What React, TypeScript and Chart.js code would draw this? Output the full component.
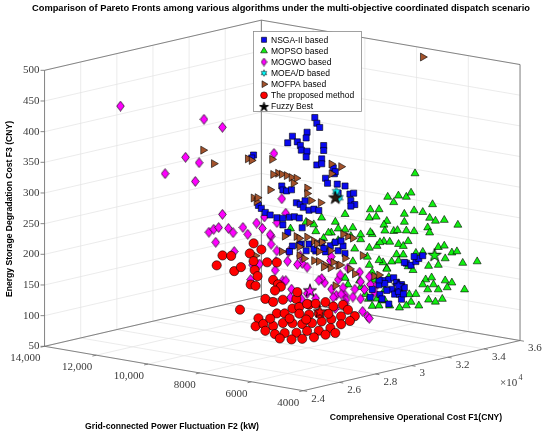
import React, { useEffect, useRef } from "react";
import { Chart, registerables } from "chart.js";
import { drawPoint } from "chart.js/helpers";

Chart.register(...registerables);

const title =
  "Comparison of Pareto Fronts among various algorithms under the multi-objective coordinated dispatch scenario";
const seriesNames = [
  "NSGA-II based",
  "MOPSO based",
  "MOGWO based",
  "MOEA/D based",
  "MOFPA based",
  "The proposed method",
  "Fuzzy Best",
];
const f1Title = "Comprehensive Operational Cost F1(CNY)";
const f2Title = "Grid-connected Power Fluctuation F2 (kW)";
const f3Title = "Energy Storage Degradation Cost F3 (CNY)";

const f1Ticks = [24000, 26000, 28000, 30000, 32000, 34000, 36000];
const f1TickLabels = ["2.4", "2.6", "2.8", "3", "3.2", "3.4", "3.6"];
const f2Ticks = [4000, 6000, 8000, 10000, 12000, 14000];
const f2TickLabels = ["4000", "6000", "8000", "10,000", "12,000", "14,000"];
const f3Ticks = [50, 100, 150, 200, 250, 300, 350, 400, 450, 500];

// every point: [F1 (CNY), F2 (kW), F3 (CNY)]
const nsga2Points = [
  [31800, 9000, 406], [30480, 8000, 413], [32070, 9000, 388], [29940, 8000, 402],
  [31320, 9000, 376], [29130, 8000, 401], [30300, 9000, 375], [29400, 8000, 390],
  [31000, 9000, 366], [29620, 8000, 375], [31370, 9000, 354], [29890, 8000, 362],
  [32290, 9000, 357], [30860, 8000, 366], [32180, 9000, 336], [30480, 8000, 345],
  [29320, 7000, 362], [31390, 8000, 334], [30020, 7000, 341], [30960, 8000, 320],
  [29640, 7000, 328], [31610, 8000, 306], [30610, 7000, 317], [31660, 8000, 291],
  [30880, 7000, 302], [32520, 8000, 285], [30930, 7000, 291], [32580, 8000, 266],
  [30930, 7000, 282], [29840, 10000, 351], [31170, 11000, 330], [29970, 9000, 307],
  [28600, 8000, 317], [30240, 9000, 297], [29080, 8000, 314], [30780, 9000, 274],
  [29560, 8000, 287], [31260, 9000, 274], [29730, 8000, 281], [31480, 9000, 257],
  [30320, 8000, 274], [32020, 9000, 253], [30110, 10000, 267], [28840, 9000, 278],
  [30490, 10000, 253], [29330, 9000, 264], [28270, 8000, 274], [30030, 9000, 254],
  [28970, 8000, 270], [30670, 9000, 252], [29510, 8000, 265], [31100, 9000, 231],
  [29620, 8000, 222], [31480, 9000, 202], [30750, 8000, 216], [32660, 9000, 191],
  [31500, 8000, 212], [31660, 8000, 197], [30500, 7000, 220], [32040, 8000, 190],
  [29530, 7000, 217], [30420, 8000, 205], [28460, 7000, 226], [28600, 8000, 260],
  [30300, 9000, 229], [29130, 8000, 222], [30940, 9000, 204], [31750, 9000, 192],
  [30860, 8000, 206], [30390, 7000, 229], [30400, 9000, 197], [30070, 7000, 344],
  [32570, 6000, 185], [31400, 5000, 197], [33100, 6000, 184], [31830, 5000, 205],
  [33480, 6000, 191], [31570, 5000, 210], [31030, 5000, 204], [31330, 6000, 165],
  [30170, 5000, 182], [31870, 6000, 166], [30600, 5000, 174], [32300, 6000, 152],
  [31030, 5000, 163], [31760, 6000, 148], [30490, 5000, 156], [32190, 6000, 137],
  [30060, 5000, 165], [31110, 6000, 144], [29140, 5000, 160], [31220, 6000, 136],
  [30870, 5000, 145], [31600, 6000, 125], [29630, 5000, 177], [30680, 6000, 155],
  [31380, 6000, 160], [30700, 5000, 159], [32410, 6000, 136], [29630, 5000, 185],
];

const mopsoPoints = [
  [31620, 5000, 345], [31540, 6000, 300], [30700, 5000, 315], [32570, 6000, 293],
  [31400, 5000, 315], [30440, 5000, 306], [32590, 5000, 288], [30580, 6000, 286],
  [29630, 5000, 300], [32460, 6000, 266], [31570, 5000, 285], [33480, 6000, 262],
  [29090, 5000, 290], [30900, 6000, 272], [30060, 5000, 278], [31030, 5000, 270],
  [33860, 6000, 250], [32750, 5000, 260], [34670, 6000, 241], [33990, 5000, 245],
  [29180, 6000, 288], [27210, 5000, 296], [31330, 6000, 256], [29950, 5000, 263],
  [31870, 6000, 242], [30650, 5000, 259], [32570, 6000, 238], [31570, 5000, 251],
  [32320, 5000, 252], [33860, 6000, 226], [29250, 5000, 262], [31330, 6000, 229],
  [30220, 5000, 243], [32140, 6000, 219], [30970, 5000, 231], [32670, 6000, 220],
  [27750, 5000, 280], [29500, 6000, 250], [28610, 5000, 258], [30520, 6000, 224],
  [29520, 5000, 241], [32030, 6000, 203], [30970, 5000, 217], [33100, 6000, 198],
  [32050, 5000, 214], [32910, 5000, 216], [34670, 6000, 199], [33660, 5000, 202],
  [35370, 6000, 185], [33290, 5000, 195], [34260, 5000, 181], [35060, 5000, 178],
  [28980, 5000, 227], [31280, 6000, 195], [30330, 5000, 210], [32140, 6000, 192],
  [31240, 5000, 196], [32940, 6000, 171], [32370, 5000, 189], [34340, 6000, 170],
  [30060, 5000, 201], [32210, 5000, 168], [33970, 6000, 152], [32640, 5000, 157],
  [34720, 6000, 142], [33660, 5000, 153], [33480, 6000, 144], [32320, 5000, 151],
  [34340, 6000, 130], [33400, 5000, 147], [34360, 5000, 137], [31300, 5000, 150],
  [33100, 6000, 131], [32370, 5000, 134], [34180, 6000, 111], [33130, 5000, 130],
  [31400, 5000, 137], [27750, 5000, 201], [29340, 6000, 172], [28610, 5000, 180],
  [30790, 6000, 170], [26990, 5000, 280], [28800, 6000, 248], [31830, 5000, 128],
  [32570, 6000, 116], [30760, 5000, 132], [31650, 6000, 122], [29950, 5000, 149],
  [30950, 6000, 138], [29040, 5000, 158], [29250, 5000, 145], [31060, 6000, 126],
  [24730, 5000, 302], [25590, 5000, 307], [26130, 5000, 288], [27990, 6000, 257],
  [27100, 5000, 262], [27370, 5000, 284], [29610, 6000, 263], [28610, 5000, 266],
  [30580, 6000, 249], [29680, 5000, 246], [28280, 5000, 245], [29630, 5000, 217],
  [30520, 6000, 196], [29250, 5000, 200], [31490, 6000, 183], [30170, 5000, 186],
  [29610, 6000, 208], [28550, 5000, 191], [26450, 5000, 308], [27450, 6000, 283],
  [28260, 6000, 264], [29950, 5000, 167], [31220, 6000, 134], [28880, 5000, 167],
];

const mogwoPoints = [
  [26770, 13000, 430], [29960, 12000, 394], [29550, 11000, 391], [28940, 12000, 339],
  [28260, 11000, 342], [29240, 13000, 303], [29480, 12000, 296], [29550, 11000, 249],
  [30970, 10000, 346], [29970, 9000, 286], [28800, 11000, 225], [30500, 12000, 211],
  [27910, 10000, 246], [29880, 11000, 224], [28710, 10000, 232], [30610, 12000, 189],
  [29250, 10000, 237], [30950, 11000, 207], [30010, 10000, 239], [28900, 9000, 245],
  [30440, 10000, 246], [28770, 10000, 201], [28250, 9000, 166], [29380, 9000, 229],
  [28270, 8000, 266], [30190, 9000, 261], [27950, 8000, 233], [29700, 9000, 203],
  [28920, 8000, 214], [29650, 9000, 186], [28860, 8000, 199], [28170, 8000, 189],
  [28130, 7000, 220], [29670, 8000, 190], [27160, 7000, 186], [29080, 8000, 152],
  [27590, 7000, 156], [29460, 8000, 143], [28510, 7000, 156], [30420, 8000, 128],
  [29480, 7000, 167], [31290, 8000, 137], [30120, 7000, 142], [31930, 8000, 135],
  [30770, 7000, 182], [32040, 8000, 122], [31040, 7000, 133], [31470, 7000, 127],
  [30150, 6000, 123], [31850, 7000, 96], [29720, 6000, 162], [31680, 7000, 141],
  [30580, 6000, 164], [32220, 7000, 133], [28800, 6000, 184], [29800, 7000, 201],
  [31420, 7000, 171], [30040, 6000, 172], [31950, 7000, 160], [30750, 8000, 158],
  [29940, 8000, 182], [27970, 7000, 207], [29850, 7000, 207], [30340, 7000, 174],
  [30950, 6000, 161], [28960, 6000, 159], [30660, 7000, 131], [30520, 6000, 109],
  [28740, 9000, 188], [29790, 10000, 172], [29330, 9000, 232], [28760, 8000, 168],
  [28190, 7000, 149], [29160, 7000, 173], [30070, 7000, 121], [30610, 7000, 125],
  [31390, 8000, 123],
];

const moeadPoints = [
  [30120, 7000, 311], [31720, 8000, 283],
];

const mofpaPoints = [
  [36000, 7760, 485], [29910, 12000, 344], [29070, 11000, 335], [29520, 10000, 347],
  [28300, 9000, 360], [29430, 9000, 354], [28330, 8000, 346], [29970, 9000, 326],
  [28810, 8000, 339], [30510, 9000, 317], [29350, 8000, 331], [30620, 9000, 307],
  [29330, 9000, 305], [29840, 10000, 281], [28570, 9000, 291], [31490, 11000, 263],
  [29940, 8000, 311], [31370, 9000, 285], [30160, 8000, 289], [29850, 7000, 358],
  [30390, 7000, 350], [31290, 8000, 325], [29260, 7000, 299], [28700, 8000, 241],
  [27920, 7000, 253], [29510, 8000, 218], [28620, 7000, 271], [30320, 8000, 222],
  [29050, 7000, 233], [30590, 8000, 203], [29320, 7000, 234], [28080, 7000, 221],
  [29780, 8000, 197], [28890, 7000, 207], [30590, 8000, 187], [29530, 7000, 195],
  [31230, 8000, 172], [30230, 7000, 190], [32040, 8000, 182], [30770, 7000, 234],
  [32470, 8000, 212], [30500, 7000, 239], [30070, 7000, 158], [30790, 6000, 176],
  [29970, 9000, 200], [30940, 9000, 215], [29940, 8000, 231], [29800, 7000, 217],
  [31390, 8000, 180], [30860, 8000, 176], [31770, 8000, 173], [30880, 7000, 180],
  [31580, 7000, 197], [31060, 6000, 176], [31150, 7000, 170], [29950, 10000, 186],
  [29490, 9000, 329],
];

const proposedPoints = [
  [26690, 9000, 216], [27170, 9000, 212], [26370, 9000, 202], [27340, 9000, 186],
  [27710, 9000, 190], [28200, 9000, 209], [25550, 7000, 258], [27410, 8000, 228],
  [28410, 9000, 195], [26300, 7000, 222], [28270, 8000, 201], [28470, 9000, 180],
  [25770, 7000, 203], [28250, 9000, 158], [27090, 8000, 171], [26630, 7000, 191],
  [28330, 8000, 165], [29920, 9000, 143], [26730, 7000, 173], [27630, 8000, 146],
  [27660, 9000, 121], [26630, 7000, 155], [28600, 8000, 138], [30780, 9000, 117],
  [27970, 7000, 162], [30050, 8000, 120], [28680, 9000, 100], [25660, 7000, 122],
  [27520, 8000, 106], [29700, 9000, 101], [27270, 7000, 132], [29130, 8000, 120],
  [30940, 9000, 103], [28510, 7000, 139], [30420, 8000, 119], [32390, 9000, 101],
  [29960, 7000, 125], [31930, 8000, 107], [30770, 7000, 114], [31150, 7000, 101],
  [31820, 8000, 89], [29850, 7000, 105], [30750, 8000, 88], [28780, 7000, 106],
  [29670, 8000, 91], [27700, 7000, 113], [28600, 8000, 100], [26630, 7000, 116],
  [27630, 8000, 94], [26730, 7000, 102], [28700, 8000, 83], [27920, 7000, 96],
  [29940, 8000, 78], [29160, 7000, 91], [31230, 8000, 74], [30390, 7000, 93],
  [30880, 7000, 95], [29510, 8000, 109], [28620, 7000, 121], [30590, 8000, 102],
  [29690, 7000, 115], [29890, 8000, 97], [27540, 7000, 122], [27900, 8000, 112],
  [27000, 7000, 93], [27650, 7000, 87], [28240, 7000, 84], [28890, 7000, 82],
  [29530, 7000, 82], [30070, 7000, 81],
];

const fuzzyBestPoints = [
  [30700, 5000, 169], [32700, 5000, 205], [28670, 7000, 160], [30070, 7000, 302], [29210, 7000, 122],
];
const fuzzyBestOf = ["NSGA-II based", "MOPSO based", "MOGWO based", "MOFPA based", "The proposed method"];

const seriesColor: Record<string, string> = {
  "NSGA-II based": "#0a0af0",
  "MOPSO based": "#10f010",
  "MOGWO based": "#ff00ff",
  "MOEA/D based": "#00ffff",
  "MOFPA based": "#a3522b",
  "The proposed method": "#ff0000",
  "Fuzzy Best": "#000000",
};

// fixed 3-D view of the axes box, in page pixels
const VIEW_W = 550;
const VIEW_H = 434;
const ORIGIN = { x: 304, y: 397 }; // F1 = 2.4e4, F2 = 4000, F3 = 50
const DIR_F1 = { x: 223, y: -52 };
const DIR_F2 = { x: -266, y: -46 };
const DIR_F3 = { x: 0, y: -286 };

function project(f1: number, f2: number, f3: number) {
  const u = (f1 - 24000) / 12000;
  const v = (f2 - 4000) / 10000;
  const w = (f3 - 50) / 450;
  return {
    x: ORIGIN.x + u * DIR_F1.x + v * DIR_F2.x + w * DIR_F3.x,
    y: ORIGIN.y + u * DIR_F1.y + v * DIR_F2.y + w * DIR_F3.y,
  };
}

const toXY = (pts: number[][]) => pts.map((p) => project(p[0], p[1], p[2]));

function makeCanvas(w: number, h: number, draw: (ctx: CanvasRenderingContext2D) => void) {
  const c = document.createElement("canvas");
  c.width = w;
  c.height = h;
  const ctx = c.getContext("2d");
  if (ctx) draw(ctx);
  return c;
}

function diamondMarker(fill: string, w: number, h: number) {
  return makeCanvas(w, h, (ctx) => {
    ctx.beginPath();
    ctx.moveTo(w / 2, 0.6);
    ctx.lineTo(w - 0.7, h / 2);
    ctx.lineTo(w / 2, h - 0.6);
    ctx.lineTo(0.7, h / 2);
    ctx.closePath();
    ctx.fillStyle = fill;
    ctx.fill();
    ctx.lineWidth = 0.7;
    ctx.strokeStyle = "#000";
    ctx.stroke();
  });
}

function starMarker(fill: string, size: number, R: number) {
  return makeCanvas(size, size, (ctx) => {
    const r = R * 0.382;
    const c = size / 2;
    ctx.beginPath();
    for (let i = 0; i < 10; i++) {
      const a = -Math.PI / 2 + (i * Math.PI) / 5;
      const rad = i % 2 === 0 ? R : r;
      const px = c + rad * Math.cos(a);
      const py = c + 0.5 + rad * Math.sin(a);
      if (i === 0) ctx.moveTo(px, py);
      else ctx.lineTo(px, py);
    }
    ctx.closePath();
    ctx.fillStyle = fill;
    ctx.fill();
    ctx.lineWidth = 0.9;
    ctx.strokeStyle = "#000";
    ctx.stroke();
  });
}

function hexagramMarker(fill: string, size: number, R: number) {
  return makeCanvas(size, size, (ctx) => {
    const c = size / 2;
    ctx.fillStyle = fill;
    ctx.strokeStyle = "#333";
    ctx.lineWidth = 0.6;
    for (const off of [-Math.PI / 2, Math.PI / 2]) {
      ctx.beginPath();
      for (let i = 0; i < 3; i++) {
        const a = off + (i * 2 * Math.PI) / 3;
        const px = c + R * Math.cos(a);
        const py = c + R * Math.sin(a);
        if (i === 0) ctx.moveTo(px, py);
        else ctx.lineTo(px, py);
      }
      ctx.closePath();
      ctx.fill();
      ctx.stroke();
    }
  });
}

const App: React.FC = () => {
  const canvasRef = useRef<HTMLCanvasElement | null>(null);
  const chartInstance = useRef<Chart | null>(null);

  useEffect(() => {
    document.body.style.margin = "0";
    if (!canvasRef.current) return;

    const diamond = diamondMarker(seriesColor["MOGWO based"], 9, 11);
    const hexagram = hexagramMarker(seriesColor["MOEA/D based"], 11, 4.6);
    const fuzzyStars = fuzzyBestOf.map((s) =>
      starMarker(s === "MOFPA based" ? "#2a1c12" : seriesColor[s], 16, 6.9)
    );
    const legendDiamond = diamondMarker(seriesColor["MOGWO based"], 7, 9);
    const legendHexagram = hexagramMarker(seriesColor["MOEA/D based"], 8, 3.3);
    const legendStar = starMarker("#000000", 11, 4.8);

    const edgeStyle = { borderColor: "#000", borderWidth: 0.6 };

    const legendMarks = [
      { pointStyle: "rect", radius: 3.6, rotation: 0, color: seriesColor["NSGA-II based"] },
      { pointStyle: "triangle", radius: 3.9, rotation: 0, color: seriesColor["MOPSO based"] },
      { pointStyle: legendDiamond, radius: 3, rotation: 0, color: seriesColor["MOGWO based"] },
      { pointStyle: legendHexagram, radius: 3, rotation: 0, color: seriesColor["MOEA/D based"] },
      { pointStyle: "triangle", radius: 3.9, rotation: 90, color: seriesColor["MOFPA based"] },
      { pointStyle: "circle", radius: 3.4, rotation: 0, color: seriesColor["The proposed method"] },
      { pointStyle: legendStar, radius: 4, rotation: 0, color: "#000" },
    ];

    const axesBox = {
      id: "axesBox",
      beforeDatasetsDraw(chart: Chart) {
        const { ctx } = chart;
        const sx = chart.scales.x;
        const sy = chart.scales.y;
        const P = (f1: number, f2: number, f3: number): [number, number] => {
          const p = project(f1, f2, f3);
          return [sx.getPixelForValue(p.x), sy.getPixelForValue(p.y)];
        };
        const line = (a: [number, number], b: [number, number]) => {
          ctx.beginPath();
          ctx.moveTo(a[0], a[1]);
          ctx.lineTo(b[0], b[1]);
          ctx.stroke();
        };
        ctx.save();

        // grid on the floor and the two back walls
        ctx.strokeStyle = "#e2e2e2";
        ctx.lineWidth = 0.7;
        f1Ticks.forEach((t) => {
          line(P(t, 4000, 50), P(t, 14000, 50));
          line(P(t, 14000, 50), P(t, 14000, 500));
        });
        f2Ticks.forEach((t) => {
          line(P(24000, t, 50), P(36000, t, 50));
          line(P(36000, t, 50), P(36000, t, 500));
        });
        f3Ticks.forEach((t) => {
          line(P(24000, 14000, t), P(36000, 14000, t));
          line(P(36000, 14000, t), P(36000, 4000, t));
        });

        // box edges and axes
        ctx.strokeStyle = "#6a6a6a";
        ctx.lineWidth = 0.8;
        line(P(24000, 14000, 50), P(24000, 14000, 500));
        line(P(36000, 14000, 50), P(36000, 14000, 500));
        line(P(36000, 4000, 50), P(36000, 4000, 500));
        line(P(24000, 14000, 500), P(36000, 14000, 500));
        line(P(36000, 14000, 500), P(36000, 4000, 500));
        line(P(24000, 14000, 50), P(36000, 14000, 50));
        line(P(36000, 14000, 50), P(36000, 4000, 50));
        line(P(24000, 14000, 50), P(24000, 4000, 50));
        line(P(24000, 4000, 50), P(36000, 4000, 50));

        // ticks and tick labels
        ctx.fillStyle = "#3a3a3a";
        ctx.font = "11px 'Liberation Serif', 'Times New Roman', serif";
        ctx.textBaseline = "middle";
        ctx.textAlign = "right";
        f3Ticks.forEach((t) => {
          const p = P(24000, 14000, t);
          line([p[0] - 4, p[1]], p);
          ctx.fillText(String(t), p[0] - 5, p[1]);
        });
        f2Ticks.forEach((t, i) => {
          const p = P(24000, t, 50);
          line(p, [p[0] - 3.9, p[1] + 0.9]);
          ctx.fillText(f2TickLabels[i], p[0] - 4, p[1] + 12);
        });
        ctx.textAlign = "left";
        f1Ticks.forEach((t, i) => {
          const p = P(t, 4000, 50);
          line(p, [p[0] + 3.9, p[1] + 0.7]);
          ctx.fillText(f1TickLabels[i], p[0] + 8, p[1] + 8);
        });
        ctx.fillText("\u00d710", 500, 383);
        ctx.font = "8px 'Liberation Serif', 'Times New Roman', serif";
        ctx.fillText("4", 518.5, 378);

        // titles
        ctx.fillStyle = "#000";
        ctx.textAlign = "center";
        ctx.font = "bold 9.3px 'Liberation Sans', Arial, sans-serif";
        ctx.fillText(title, 281, 8.5);
        ctx.font = "bold 8.6px 'Liberation Sans', Arial, sans-serif";
        ctx.fillText(f2Title, 172, 427);
        ctx.fillText(f1Title, 416, 418);
        ctx.save();
        ctx.translate(10, 209);
        ctx.rotate(-Math.PI / 2);
        ctx.fillText(f3Title, 0, 0);
        ctx.restore();

        ctx.restore();
      },
      afterDatasetsDraw(chart: Chart) {
        const { ctx } = chart;
        ctx.save();
        ctx.fillStyle = "#fff";
        ctx.strokeStyle = "#8a8a8a";
        ctx.lineWidth = 0.8;
        ctx.fillRect(253.5, 31.5, 108, 80);
        ctx.strokeRect(253.5, 31.5, 108, 80);
        ctx.font = "8.5px 'Liberation Sans', Arial, sans-serif";
        ctx.textAlign = "left";
        ctx.textBaseline = "middle";
        seriesNames.forEach((name, i) => {
          const y = 39.8 + i * 11.1;
          const m = legendMarks[i];
          ctx.fillStyle = m.color;
          ctx.strokeStyle = "#000";
          ctx.lineWidth = 0.6;
          drawPoint(
            ctx,
            { pointStyle: m.pointStyle as any, radius: m.radius, rotation: m.rotation, borderWidth: 0.6 },
            264,
            y
          );
          ctx.fillStyle = "#000";
          ctx.fillText(name, 271, y + 0.5);
        });
        ctx.restore();
      },
    };

    chartInstance.current = new Chart(canvasRef.current, {
      type: "scatter",
      data: {
        datasets: [
          {
            label: seriesNames[0],
            data: toXY(nsga2Points),
            pointStyle: "rect",
            pointRadius: 4.3,
            backgroundColor: seriesColor["NSGA-II based"],
            ...edgeStyle,
            order: 4,
          },
          {
            label: seriesNames[1],
            data: toXY(mopsoPoints),
            pointStyle: "triangle",
            pointRadius: 4.6,
            backgroundColor: seriesColor["MOPSO based"],
            ...edgeStyle,
            order: 6,
          },
          {
            label: seriesNames[2],
            data: toXY(mogwoPoints),
            pointStyle: diamond,
            pointRadius: 4,
            backgroundColor: seriesColor["MOGWO based"],
            ...edgeStyle,
            order: 5,
          },
          {
            label: seriesNames[3],
            data: toXY(moeadPoints),
            pointStyle: hexagram,
            pointRadius: 4,
            backgroundColor: seriesColor["MOEA/D based"],
            ...edgeStyle,
            order: 1,
          },
          {
            label: seriesNames[4],
            data: toXY(mofpaPoints),
            pointStyle: "triangle",
            pointRotation: 90,
            pointRadius: 4.6,
            backgroundColor: seriesColor["MOFPA based"],
            ...edgeStyle,
            order: 3,
          },
          {
            label: seriesNames[5],
            data: toXY(proposedPoints),
            pointStyle: "circle",
            pointRadius: 4.6,
            backgroundColor: seriesColor["The proposed method"],
            ...edgeStyle,
            order: 2,
          },
          {
            label: seriesNames[6],
            data: toXY(fuzzyBestPoints),
            pointStyle: fuzzyStars,
            pointRadius: 7,
            backgroundColor: "#000",
            ...edgeStyle,
            order: 0,
          },
        ],
      },
      options: {
        animation: false,
        responsive: false,
        events: [],
        layout: { padding: 0 },
        plugins: {
          legend: { display: false },
          tooltip: { enabled: false },
          title: { display: false },
        },
        scales: {
          x: { type: "linear", min: 0, max: VIEW_W, display: false },
          y: { type: "linear", min: 0, max: VIEW_H, reverse: true, display: false },
        },
      },
      plugins: [axesBox],
    } as any);

    return () => {
      if (chartInstance.current) {
        chartInstance.current.destroy();
        chartInstance.current = null;
      }
    };
  }, []);

  return (
    <div style={{ width: VIEW_W, height: VIEW_H }}>
      <canvas ref={canvasRef} width={VIEW_W} height={VIEW_H} style={{ display: "block" }}></canvas>
    </div>
  );
};

export default App;
